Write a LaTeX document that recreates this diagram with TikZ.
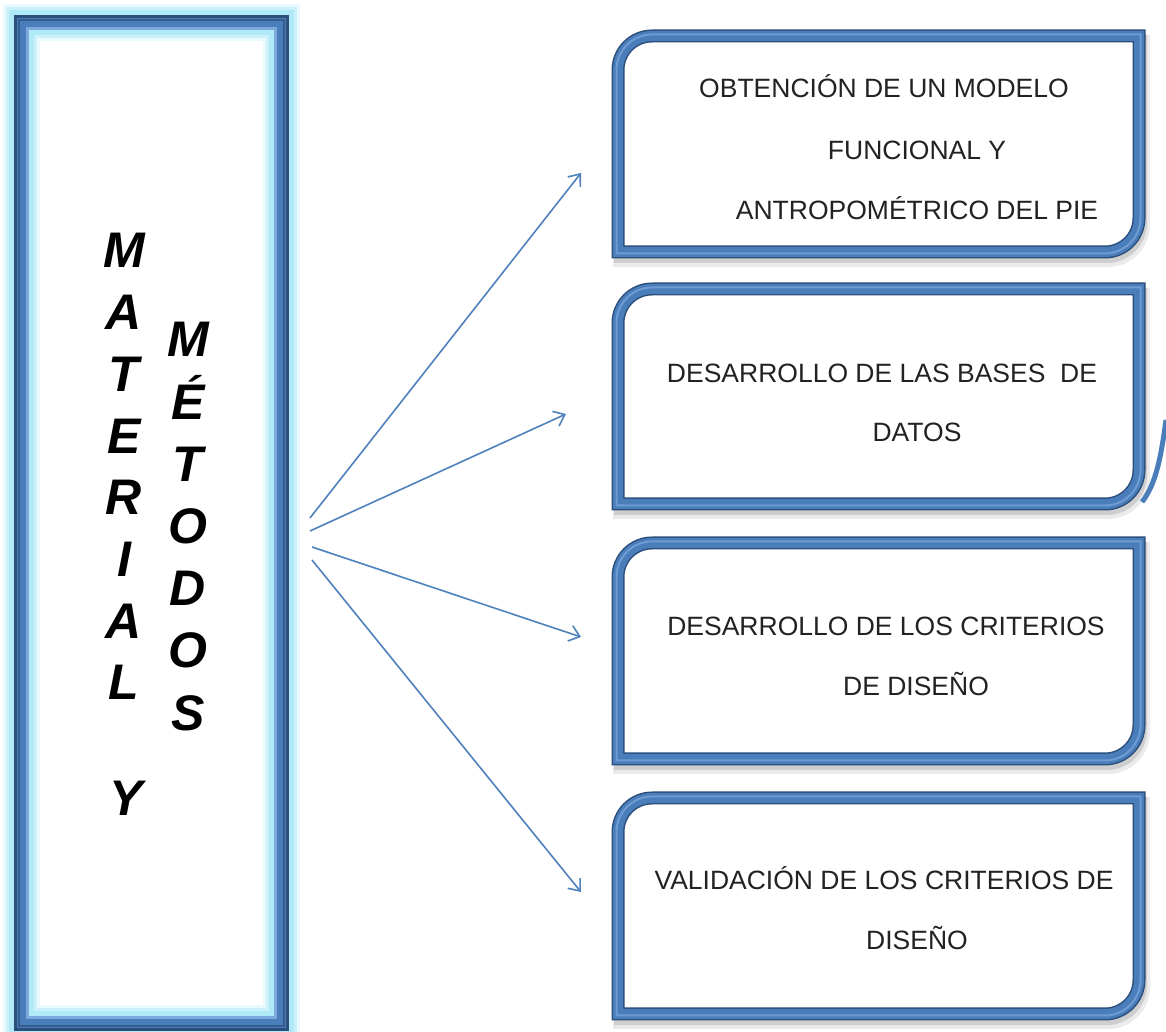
\documentclass[tikz,border=0pt]{standalone}
\usepackage{fontspec}
\setmainfont{Liberation Sans}
\usetikzlibrary{arrows.meta}
\definecolor{frameblue}{HTML}{4A7EBB}
\definecolor{framedark}{HTML}{2C4F7C}
\definecolor{framelight}{HTML}{7DA8DC}
\definecolor{glowc}{HTML}{A9E9F9}
\definecolor{arrowblue}{HTML}{4F81BD}
\definecolor{txt}{HTML}{222222}
\tikzset{
  bigletter/.style={anchor=base, inner sep=0pt, font=\fontsize{50}{60}\selectfont\bfseries\itshape, text=black},
  boxtext/.style={anchor=base, inner sep=0pt, font=\fontsize{26.5}{30}\selectfont, text=txt},
  conn/.style={draw=arrowblue, line width=1.6pt, -{Straight Barb[length=10pt,width=16pt,line width=1.6pt]}},
}
% #1 left, #2 right, #3 top, #4 bottom, #5 radius
\newcommand{\rboxpath}[5]{(#1,#4) -- (#1,#3-#5) arc[start angle=180,end angle=90,radius=#5] -- (#2,#3) -- (#2,#4+#5) arc[start angle=0,end angle=-90,radius=#5] -- cycle}
\begin{document}
\begin{tikzpicture}[x=1pt,y=1pt]
\useasboundingbox (0,0) rectangle (1166,1032);
\fill[white] (0,0) rectangle (1166,1032);

% ---- left frame with glow
\draw[glowc, opacity=0.25, line width=37pt] (21.5,8.5) rectangle (281.5,1009.5);
\draw[glowc, opacity=0.45, line width=31pt] (21.5,8.5) rectangle (281.5,1009.5);
\draw[glowc, opacity=0.8, line width=25pt] (21.5,8.5) rectangle (281.5,1009.5);
\draw[frameblue, line width=15pt] (21.5,8.5) rectangle (281.5,1009.5);
\draw[framedark, line width=3pt] (15.5,2.5) rectangle (287.5,1015.5);
\draw[framedark!70!frameblue, line width=2pt] (19,6) rectangle (284,1012);
\draw[framelight, line width=2.5pt] (27.5,14.5) rectangle (275.5,1003.5);

% ---- vertical title
\foreach \l [count=\i from 0] in {M,A,T,E,R,I,A,L}
  \node[bigletter] (mat\i) at (124,764-61.7*\i) {\l};
\foreach \l [count=\i from 0] in {M,É,T,O,D,O,S}
  \node[bigletter] (met\i) at (188,675-62.2*\i) {\l};
\node[bigletter] (ylet) at (126,216) {Y};

% ---- right boxes
\foreach \t/\b in {1002/774, 749/522, 495/267, 240/12}{
  \draw[black, opacity=0.08, line width=16pt] [shift={(3,-7)}] \rboxpath{618}{1139}{\t-6}{\b+6}{34};
  \draw[black, opacity=0.12, line width=12pt] [shift={(2,-5)}] \rboxpath{618}{1139}{\t-6}{\b+6}{34};
  \fill[white] \rboxpath{618}{1139}{\t-6}{\b+6}{34};
  \draw[framedark, line width=13pt] \rboxpath{618}{1139}{\t-6}{\b+6}{34};
  \draw[frameblue, line width=10pt] \rboxpath{618}{1139}{\t-6}{\b+6}{34};
  \draw[framelight!70!frameblue, line width=2pt] \rboxpath{616.5}{1140.5}{\t-4.5}{\b+4.5}{35.5};
}
% stray stroke at the right of box 2
\draw[frameblue, line width=5pt] (1166,612) .. controls (1161,575) and (1156,548) .. (1142,530);

% ---- box texts
\node[boxtext] (b1a) at (884,934.5) {OBTENCIÓN DE UN MODELO};
\node[boxtext] (b1b) at (917,872.5) {FUNCIONAL Y};
\node[boxtext] (b1c) at (917,812.5) {ANTROPOMÉTRICO DEL PIE};
\node[boxtext] (b2a) at (882,649.5) {DESARROLLO DE LAS BASES\ \ DE};
\node[boxtext] (b2b) at (917,590.5) {DATOS};
\node[boxtext] (b3a) at (886,396.5) {DESARROLLO DE LOS CRITERIOS};
\node[boxtext] (b3b) at (916,336.5) {DE DISEÑO};
\node[boxtext] (b4a) at (884,142.5) {VALIDACIÓN DE LOS CRITERIOS DE};
\node[boxtext] (b4b) at (917,82.5) {DISEÑO};

% ---- arrows
\coordinate (s1) at (310,514); \coordinate (e1) at (581,859);
\coordinate (s2) at (310,501); \coordinate (e2) at (566,618);
\coordinate (s3) at (312,485); \coordinate (e3) at (581,395);
\coordinate (s4) at (312,472); \coordinate (e4) at (581,140);
\draw[conn] (s1) -- (e1);
\draw[conn] (s2) -- (e2);
\draw[conn] (s3) -- (e3);
\draw[conn] (s4) -- (e4);
\end{tikzpicture}
\end{document}
